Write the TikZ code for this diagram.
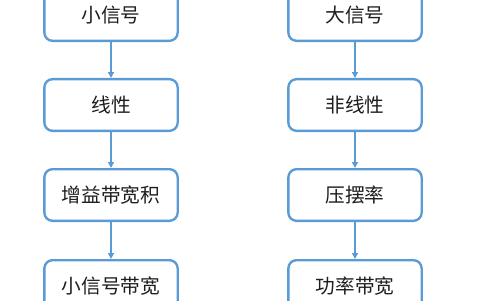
\documentclass[tikz,border=0pt]{standalone}
\usepackage{fontspec}
\newfontfamily\cjk{Noto Sans CJK SC}
\definecolor{boxblue}{RGB}{91,155,213}
\definecolor{textgray}{RGB}{30,30,30}
\usepackage{tikz}
\usetikzlibrary{arrows.meta}

\begin{document}
\begin{tikzpicture}[x=0.03cm, y=-0.03cm,
  stagebox/.style={draw=boxblue, line width=2pt, rounded corners=7pt, fill=white,
    minimum width=4.0cm, minimum height=1.55cm, inner sep=0pt,
    font=\cjk\fontsize{16.8}{20}\selectfont, text=textgray},
  flow/.style={-{Triangle[length=5pt,width=5pt]}, boxblue, line width=1.6pt}]
\useasboundingbox (0,0) rectangle (480,300);
% Small-signal chain
\node[stagebox] (small)  at (111,15)  {小信号};
\node[stagebox] (lin)    at (111,105) {线性};
\node[stagebox] (gbw)    at (111,195) {增益带宽积};
\node[stagebox] (ssbw)   at (111,286) {小信号带宽};
% Large-signal chain
\node[stagebox] (large)  at (355,15)  {大信号};
\node[stagebox] (nonlin) at (355,105) {非线性};
\node[stagebox] (slew)   at (355,195) {压摆率};
\node[stagebox] (pwbw)   at (355,286) {功率带宽};
% Arrows
\draw[flow] (small) -- (lin);
\draw[flow] (lin) -- (gbw);
\draw[flow] (gbw) -- (ssbw);
\draw[flow] (large) -- (nonlin);
\draw[flow] (nonlin) -- (slew);
\draw[flow] (slew) -- (pwbw);
\end{tikzpicture}
\end{document}
